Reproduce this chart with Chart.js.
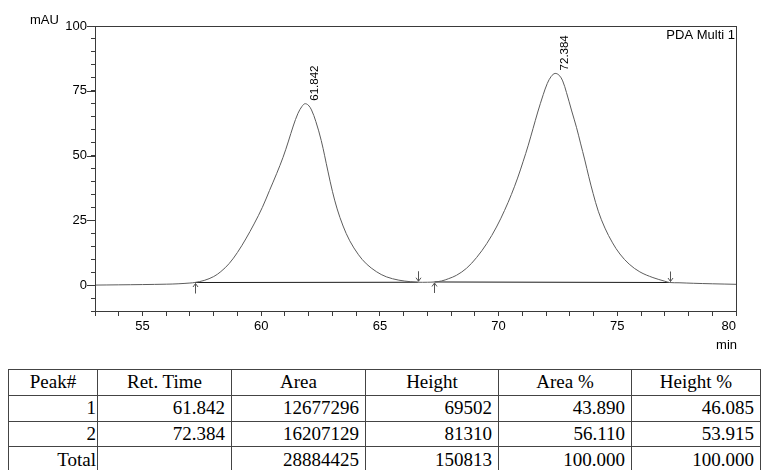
<!DOCTYPE html>
<html>
<head>
<meta charset="utf-8">
<script src="https://cdn.jsdelivr.net/npm/chart.js@4/dist/chart.umd.min.js"></script>
<style>
  html, body { margin: 0; padding: 0; background: #fff; }
  body { width: 763px; height: 470px; position: relative; overflow: hidden; }
  #wrap { position: absolute; left: 0; top: 0; width: 763px; height: 350px; }
  table {
    position: absolute; left: 8px; top: 369px; width: 752px;
    border-collapse: collapse; table-layout: fixed;
    font-family: "Liberation Serif", "Times New Roman", serif; font-size: 19px; color: #000;
  }
  td, th { border: 1px solid #444; height: 24.8px; padding: 0 6px 0 0; line-height: 24px; font-weight: normal; text-align: right; white-space: nowrap; overflow: visible; }
  th { text-align: center; padding: 0; }
  td.c0 { padding-right: 1px; }
</style>
</head>
<body>
<div id="wrap"><canvas id="c" width="763" height="350"></canvas></div>
<table id="tbl">
  <colgroup>
    <col style="width:89px"><col style="width:134px"><col style="width:134px"><col style="width:133px"><col style="width:133px"><col style="width:129px">
  </colgroup>
  <thead><tr id="hdr"></tr></thead>
  <tbody id="body"></tbody>
</table>
<script>
// ---------- data ----------
const timeMin = [53.0, 54.0, 55.0, 56.0, 56.5, 57.0, 57.2, 57.6, 58.0, 58.3, 58.65, 59.0, 59.35, 59.7, 60.05, 60.35, 60.65, 60.92, 61.15, 61.35, 61.55, 61.72, 61.84, 61.98, 62.12, 62.3, 62.53, 62.81, 63.0, 63.2, 63.45, 63.73, 64.1, 64.43, 64.85, 65.27, 65.8, 66.3, 66.6, 67.0, 67.3, 67.6, 67.9, 68.23, 68.65, 69.07, 69.5, 69.91, 70.25, 70.54, 70.8, 71.03, 71.25, 71.45, 71.65, 71.88, 72.05, 72.22, 72.38, 72.55, 72.7, 72.86, 73.08, 73.28, 73.45, 73.63, 73.8, 73.98, 74.2, 74.48, 74.8, 75.11, 75.5, 75.95, 76.5, 77.0, 77.2, 77.6, 78.2, 79.0, 80.0];
const signalMAU = [0.0, 0.1, 0.2, 0.35, 0.5, 0.8, 1.0, 1.8, 3.3, 5.2, 8.3, 12.6, 17.8, 23.6, 30.0, 36.5, 43.0, 49.3, 55.6, 61.4, 66.3, 69.0, 70.0, 69.5, 67.6, 63.2, 55.8, 44.0, 36.2, 29.4, 22.8, 17.1, 11.7, 8.2, 5.2, 3.2, 1.9, 1.3, 1.1, 1.1, 1.2, 1.6, 2.5, 3.8, 6.5, 10.6, 16.0, 22.4, 28.8, 35.0, 41.3, 47.6, 54.0, 60.4, 66.8, 73.5, 77.8, 80.6, 81.7, 81.0, 78.8, 74.3, 67.2, 60.9, 54.8, 48.3, 41.8, 35.4, 28.5, 22.0, 16.3, 12.0, 8.1, 5.1, 2.9, 1.5, 1.0, 0.9, 0.7, 0.5, 0.3];

const peakRetTime = [61.842, 72.384];
const peakApexMAU = [70.0, 81.7];
const peakStartTime = [57.2, 67.3];
const peakStartMAU = [1.0, 1.2];
const peakEndTime = [66.6, 77.2];
const peakEndMAU = [1.1, 1.0];

const xTickLabels = [55, 60, 65, 70, 75, 80];
const yTickLabels = [0, 25, 50, 75, 100];

const tableHeader = ["Peak#", "Ret. Time", "Area", "Height", "Area %", "Height %"];
const peakNo = ["1", "2", "Total"];
const retTime = ["61.842", "72.384", ""];
const area = ["12677296", "16207129", "28884425"];
const height = ["69502", "81310", "150813"];
const areaPct = ["43.890", "56.110", "100.000"];
const heightPct = ["46.085", "53.915", "100.000"];

// ---------- table ----------
const hdr = document.getElementById('hdr');
tableHeader.forEach(h => { const th = document.createElement('th'); th.textContent = h; hdr.appendChild(th); });
const body = document.getElementById('body');
peakNo.forEach((p, i) => {
  const tr = document.createElement('tr');
  [p, retTime[i], area[i], height[i], areaPct[i], heightPct[i]].forEach((v, j) => {
    const td = document.createElement('td'); td.textContent = v; if (j === 0) td.className = 'c0'; tr.appendChild(td);
  });
  body.appendChild(tr);
});

// ---------- chart ----------
Chart.defaults.font.family = '"Liberation Sans", Arial, sans-serif';
Chart.defaults.font.size = 13;
Chart.defaults.color = '#000';

const curve = timeMin.map((t, i) => ({ x: t, y: signalMAU[i] }));
const baselines = peakStartTime.map((t, i) => ({
  type: 'line',
  data: [{ x: t, y: peakStartMAU[i] }, { x: peakEndTime[i], y: peakEndMAU[i] }],
  borderColor: '#1a1a1a', borderWidth: 1, pointRadius: 0, tension: 0
}));

const AXIS = '#3a3a3a';

const decor = {
  id: 'decor',
  afterDraw(chart) {
    const { ctx, chartArea: a, scales } = chart;
    const xs = scales.x, ys = scales.y;
    ctx.save();
    // frame
    ctx.strokeStyle = AXIS; ctx.lineWidth = 1;
    ctx.strokeRect(Math.round(a.left) + 0.5, Math.round(a.top) + 0.5, Math.round(a.right - a.left), Math.round(a.bottom - a.top));
    // longer major y ticks
    yTickLabels.forEach(v => {
      const py = Math.round(ys.getPixelForValue(v)) + 0.5;
      ctx.beginPath(); ctx.moveTo(a.left - 8, py); ctx.lineTo(a.left, py); ctx.stroke();
    });
    // texts
    ctx.fillStyle = '#000';
    ctx.font = '13px "Liberation Sans", Arial, sans-serif';
    ctx.textAlign = 'left'; ctx.textBaseline = 'alphabetic';
    ctx.fillText('mAU', 30, 24);
    ctx.textAlign = 'right';
    ctx.fillText('PDA Multi 1', a.right - 1, a.top + 13);
    ctx.fillText('min', a.right + 1, 349);
    // peak labels (rotated)
    ctx.font = '11.5px "Liberation Sans", Arial, sans-serif';
    peakRetTime.forEach((t, i) => {
      const px = xs.getPixelForValue(t), py = ys.getPixelForValue(peakApexMAU[i]);
      ctx.save();
      ctx.translate(px + 10, py - 3);
      ctx.rotate(-Math.PI / 2);
      ctx.textAlign = 'left'; ctx.textBaseline = 'middle';
      ctx.fillText(t.toFixed(3), 0, 0);
      ctx.restore();
    });
    // start / end arrows
    ctx.strokeStyle = '#555'; ctx.lineWidth = 1;
    const arrow = (px, tipY, dir) => {
      px = Math.round(px) + 0.5;
      ctx.beginPath();
      ctx.moveTo(px, tipY); ctx.lineTo(px, tipY + dir * 10);
      ctx.moveTo(px - 2.5, tipY + dir * 3.5); ctx.lineTo(px, tipY); ctx.lineTo(px + 2.5, tipY + dir * 3.5);
      ctx.stroke();
    };
    peakStartTime.forEach((t, i) => arrow(xs.getPixelForValue(t), ys.getPixelForValue(peakStartMAU[i]) + 1, 1));
    peakEndTime.forEach((t, i) => arrow(xs.getPixelForValue(t), ys.getPixelForValue(peakEndMAU[i]) - 1, -1));
    ctx.restore();
  }
};

new Chart(document.getElementById('c'), {
  type: 'line',
  data: {
    datasets: [
      { data: curve, borderColor: '#5c5c5c', borderWidth: 1, pointRadius: 0, tension: 0.35 },
      ...baselines
    ]
  },
  options: {
    responsive: false,
    animation: false,
    layout: { padding: { top: 26, right: 27, left: 0, bottom: 0 } },
    plugins: { legend: { display: false }, tooltip: { enabled: false } },
    scales: {
      x: {
        type: 'linear', min: 53, max: 80,
        afterFit(s) { s.height = 39; },
        grid: { drawOnChartArea: false, drawTicks: true, tickLength: 5, color: AXIS },
        border: { display: true, color: AXIS },
        ticks: {
          stepSize: 1, padding: 3, align: 'inner', maxRotation: 0, autoSkip: false, color: '#000',
          callback: v => xTickLabels.includes(v) ? String(v) : ''
        }
      },
      y: {
        type: 'linear', min: -10, max: 100,
        afterFit(s) { s.width = 95; },
        grid: { drawOnChartArea: false, drawTicks: true, tickLength: 4, color: AXIS },
        border: { display: true, color: AXIS },
        ticks: {
          stepSize: 5, padding: 4, autoSkip: false, color: '#000',
          callback: v => yTickLabels.includes(v) ? String(v) : ''
        }
      }
    }
  },
  plugins: [decor]
});
</script>
</body>
</html>
